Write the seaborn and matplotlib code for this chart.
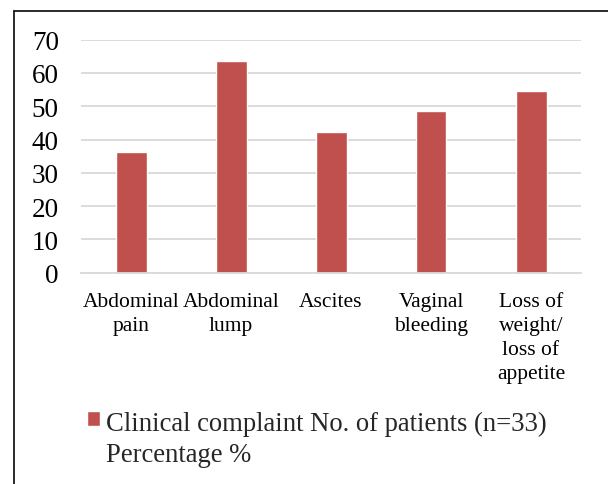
import matplotlib
matplotlib.use("Agg")
import matplotlib.pyplot as plt
import seaborn as sns
import pandas as pd
from matplotlib.lines import Line2D

categories = ["Abdominal\npain", "Abdominal\nlump", "Ascites", "Vaginal\nbleeding",
              "Loss of\nweight/\nloss of\nappetite"]
percentages = [36.4, 63.6, 42.4, 48.5, 54.5]
series_label = "Clinical complaint No. of patients (n=33)\nPercentage %"
y_ticks = [0, 10, 20, 30, 40, 50, 60, 70]

sns.set_style("white")
plt.rcParams['font.family'] = ['Liberation Serif', 'DejaVu Serif']

df = pd.DataFrame({"cat": categories, "pct": percentages})

fig = plt.figure(figsize=(6.08, 4.85), dpi=100)
ax = fig.add_axes([81/608, 1-273.7/485, 500/608, 233/485])

sns.barplot(data=df, x="cat", y="pct", color="#C0504D", saturation=1, width=0.31,
            label=series_label, ax=ax)

ax.set_ylim(0, 70)
ax.set_yticks(y_ticks)
ax.set_xlim(-0.5, 4.5)
ax.yaxis.grid(True, color="#D9D9D9", linewidth=1.3)
ax.set_axisbelow(True)
for s in ["top", "right", "left"]:
    ax.spines[s].set_visible(False)
ax.spines["bottom"].set_color("#D9D9D9")
ax.spines["bottom"].set_linewidth(1.3)
ax.set_xlabel("")
ax.set_ylabel("")
ax.tick_params(axis="y", length=0, pad=16, labelsize=19.5, labelcolor="black")
ax.tick_params(axis="x", length=0, pad=14, labelsize=15.5, labelcolor="black")
for t in ax.get_xticklabels():
    t.set_linespacing(1.35)

handles, labels = ax.get_legend_handles_labels()
if ax.get_legend() is not None:
    ax.get_legend().remove()
leg = fig.legend(handles, labels, loc="upper left",
                 bbox_to_anchor=(87/608, 1-412/485), frameon=False,
                 fontsize=19.2, handlelength=0.5, handleheight=0.5,
                 handletextpad=0.2, borderpad=0, borderaxespad=0)
for txt in leg.get_texts():
    txt.set_linespacing(1.3)
for col in leg._legend_handle_box.get_children():
    for row in col.get_children():
        row.align = "top"

# outer frame (top and left edges)
fig.add_artist(Line2D([14/608, 1], [1-11.5/485, 1-11.5/485], color="#1a1a1a",
                      linewidth=1.3, transform=fig.transFigure))
fig.add_artist(Line2D([14/608, 14/608], [0, 1-11.5/485], color="#1a1a1a",
                      linewidth=1.3, transform=fig.transFigure))

fig.savefig("out.png", dpi=100)
